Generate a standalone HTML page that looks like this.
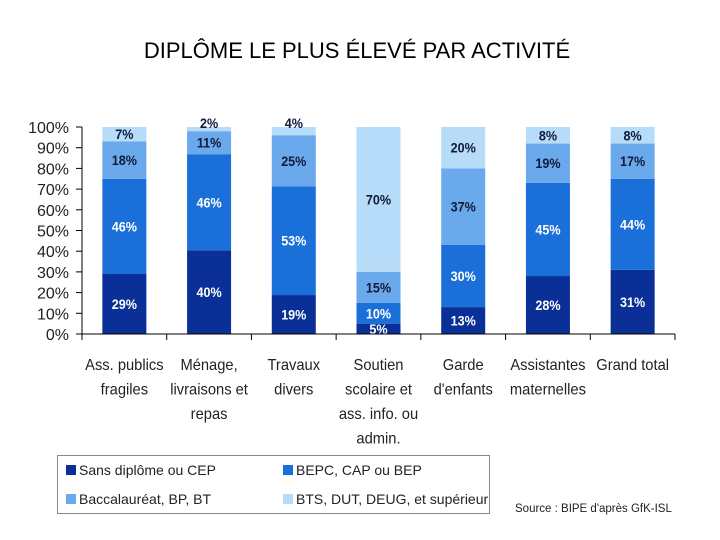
<!DOCTYPE html>
<html><head><meta charset="utf-8"><style>
body{margin:0;background:#fff;width:720px;height:540px;overflow:hidden;}
svg{display:block}
text{font-family:"Liberation Sans",sans-serif;}
</style></head><body>
<svg id="chart" width="720" height="540" viewBox="0 0 720 540">
<text x="357" y="58" text-anchor="middle" font-size="22" fill="#000">DIPLÔME LE PLUS ÉLEVÉ PAR ACTIVITÉ</text>
<g id="plot"></g>
</svg>
<script>
const categories=[["Ass. publics","fragiles"],["Ménage,","livraisons et","repas"],["Travaux","divers"],["Soutien","scolaire et","ass. info. ou","admin."],["Garde","d'enfants"],["Assistantes","maternelles"],["Grand total"]];
const seriesNames=["Sans diplôme ou CEP","BEPC, CAP ou BEP","Baccalauréat, BP, BT","BTS, DUT, DEUG, et supérieur"];
const sansDiplome=[29,40,19,5,13,28,31];
const bepc=[46,46,53,10,30,45,44];
const bac=[18,11,25,15,37,19,17];
const bts=[7,2,4,70,20,8,8];
const yTicks=[0,10,20,30,40,50,60,70,80,90,100];
const colors=["#0a2f96","#1a6fd8","#6aa9ec","#b7dcf9"];
const labelColors=["#fff","#fff","#111a3a","#111a3a"];
const ns="http://www.w3.org/2000/svg";
const g=document.getElementById('plot');
const X0=82,X1=675,Y0=334,Y1=127;
const cw=(X1-X0)/categories.length,bw=44;
const y=v=>Y0-(Y0-Y1)*v/100;
const xc=i=>X0+cw*(i+0.5);
function mk(t,a,txt){const e=document.createElementNS(ns,t);for(const k in a)e.setAttribute(k,a[k]);if(txt!=null)e.textContent=txt;g.appendChild(e);return e;}
const series=[sansDiplome,bepc,bac,bts];
categories.forEach((c,i)=>{
  const tot=series.reduce((s,a)=>s+a[i],0);
  let cum=0;
  series.forEach((a,s)=>{
    const v=a[i]*100/tot;
    const r=mk('rect',{x:xc(i)-bw/2,y:y(cum+v),width:bw,height:y(cum)-y(cum+v),fill:colors[s]});
    
    
    let ly=(y(cum)+y(cum+v))/2+5;
    if(a[i]<5) ly=y(cum+v)+1;
    const col=a[i]<5?"#111a3a":labelColors[s];
    const t=mk('text',{x:0,y:0,transform:'translate('+xc(i)+','+ly+') scale(0.9,1)','text-anchor':'middle','font-size':14,'font-weight':'bold',fill:col},a[i]+'%');
    
    
    cum+=v;
  });
  c.forEach((ln,k)=>{
    const t=mk('text',{x:0,y:0,transform:'translate('+xc(i)+','+(370+k*24.5)+') scale(0.92,1)','text-anchor':'middle','font-size':16,fill:'#222'},ln);
    
    
  });
});
yTicks.forEach(v=>{
  const t=mk('text',{x:69,y:y(v)+6,'text-anchor':'end','font-size':16,fill:'#222'},v+'%');
  
  
  const l=mk('line',{x1:76,x2:X0,y1:y(v),y2:y(v),stroke:'#000'});
  
  
});
const ya=mk('line',{x1:X0,x2:X0,y1:Y1,y2:Y0,stroke:'#000'});


const xa=mk('line',{x1:X0,x2:X1,y1:Y0,y2:Y0,stroke:'#000'});


for(let i=0;i<=categories.length;i++){
  const l=mk('line',{x1:X0+cw*i,x2:X0+cw*i,y1:Y0,y2:Y0+6,stroke:'#000'});
  
  
}
const box=mk('rect',{x:57.5,y:455.5,width:432,height:58,fill:'#fff',stroke:'#888'});


seriesNames.forEach((n,s)=>{
  const lx=s%2?283:66,ly=s<2?470:499;
  const r=mk('rect',{x:lx,y:ly-5,width:10,height:10,fill:colors[s]});
  
  
  const t=mk('text',{x:lx+13,y:ly+5,'font-size':14,fill:'#222'},n);
  
  
});
const src=mk('text',{x:515,y:512,'font-size':11.5,fill:'#222'},"Source : BIPE d'après GfK-ISL");


</script>
</body></html>
